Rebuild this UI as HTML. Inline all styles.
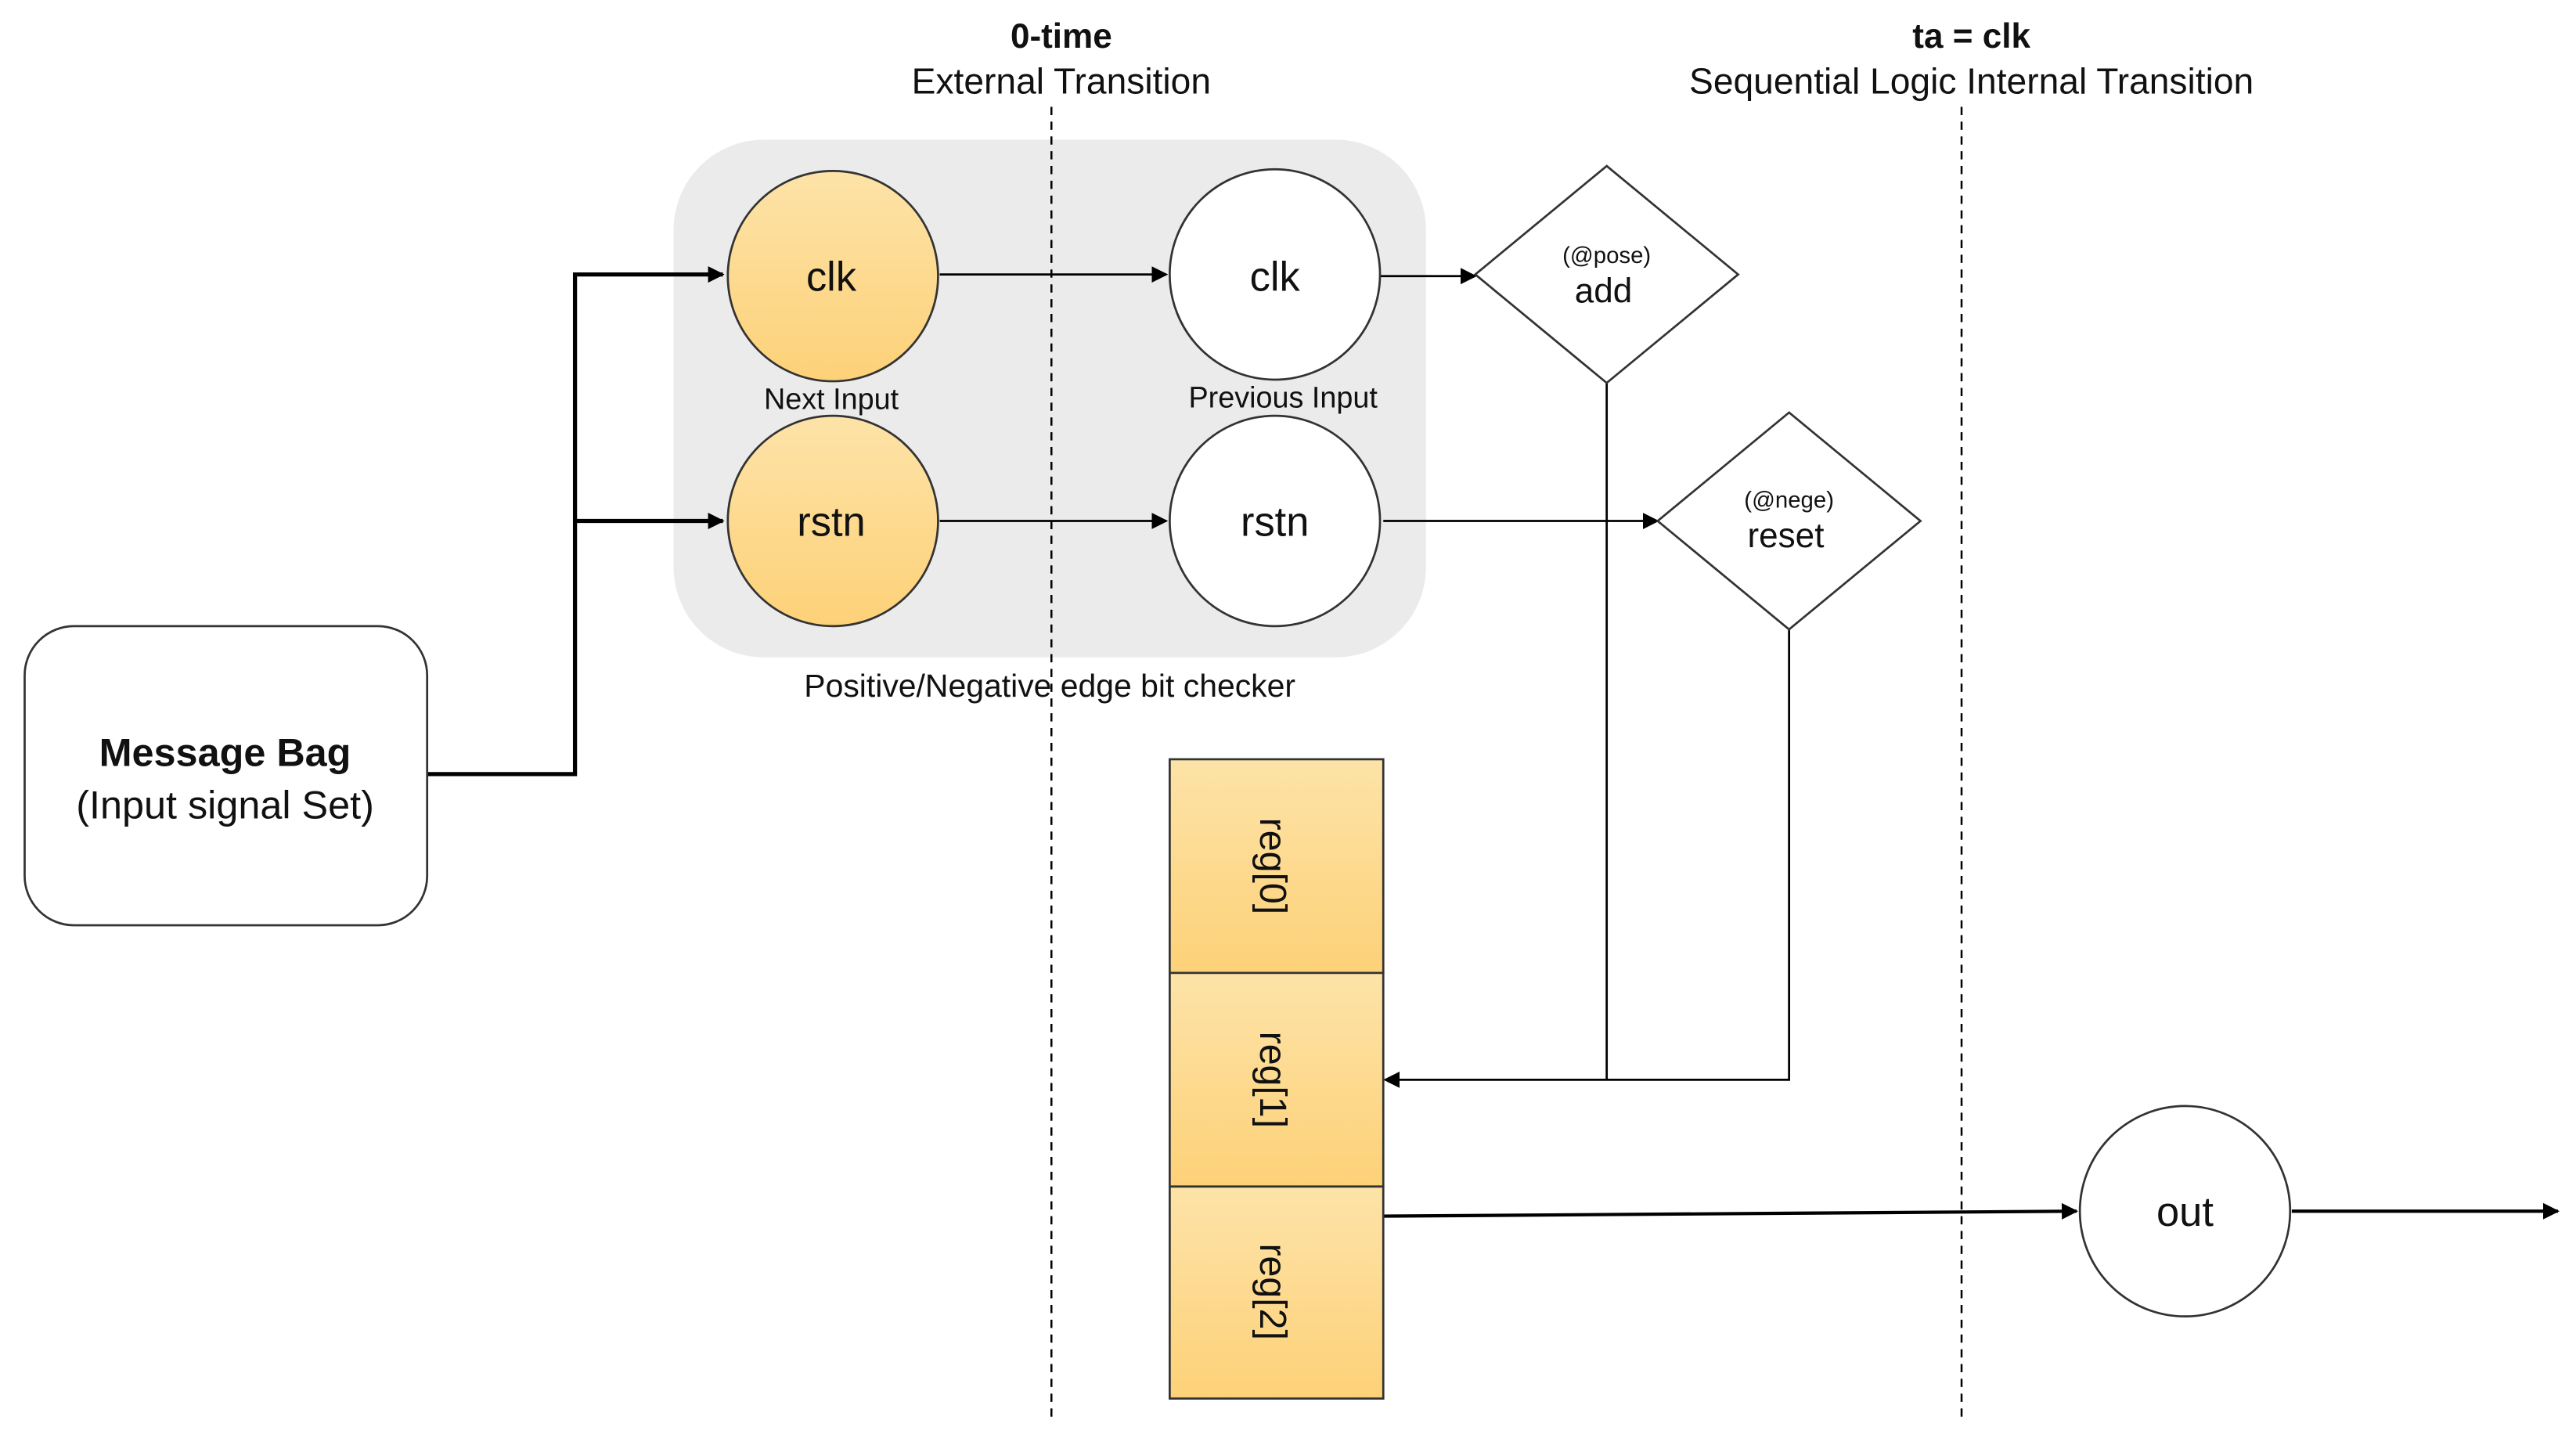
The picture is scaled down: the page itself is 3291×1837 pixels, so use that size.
<!DOCTYPE html>
<html><head><meta charset="utf-8"><style>
html,body{margin:0;padding:0;background:#fff;width:3291px;height:1837px;overflow:hidden}
svg{display:block}
text{font-family:"Liberation Sans",sans-serif;fill:#111}
</style></head><body>
<svg width="3291" height="1837" viewBox="0 0 1568 875" preserveAspectRatio="none">
<defs>
<linearGradient id="og" x1="0" y1="0" x2="0" y2="1"><stop offset="0" stop-color="#fde3a8"/><stop offset="1" stop-color="#fdd178"/></linearGradient>
<marker id="ar" markerWidth="10" markerHeight="10" refX="9" refY="5" orient="auto" markerUnits="userSpaceOnUse"><path d="M0,0 L10,5 L0,10 z" fill="#000"/></marker>
</defs>
<rect x="410" y="85" width="458" height="315" rx="55" fill="#ebebeb"/>
<g stroke="#000" stroke-width="1.2" stroke-dasharray="5,4" fill="none">
<line x1="640" y1="65" x2="640" y2="865"/><line x1="1194" y1="65" x2="1194" y2="862"/>
</g>
<g fill="none" stroke="#000">
<polyline points="260,471 350,471 350,167 440,167" stroke-width="2.5" marker-end="url(#ar)"/>
<polyline points="350,317 440,317" stroke-width="2.5" marker-end="url(#ar)"/>
<line x1="572" y1="167" x2="710" y2="167" stroke-width="1.3" marker-end="url(#ar)"/>
<line x1="840" y1="168" x2="898" y2="168" stroke-width="1.3" marker-end="url(#ar)"/>
<line x1="572" y1="317" x2="710" y2="317" stroke-width="1.3" marker-end="url(#ar)"/>
<line x1="842" y1="317" x2="1009" y2="317" stroke-width="1.3" marker-end="url(#ar)"/>
<polyline points="978,233 978,657" stroke-width="1.3"/>
<polyline points="1089,383 1089,657 843,657" stroke-width="1.3" marker-end="url(#ar)"/>
<line x1="842" y1="740" x2="1264" y2="737" stroke-width="2" marker-end="url(#ar)"/>
<line x1="1395" y1="737" x2="1557" y2="737" stroke-width="2" marker-end="url(#ar)"/>
</g>
<g stroke="#333" stroke-width="1.3">
<circle cx="507" cy="168" r="64" fill="url(#og)"/>
<circle cx="507" cy="317" r="64" fill="url(#og)"/>
<circle cx="776" cy="167" r="64" fill="#fff"/>
<circle cx="776" cy="317" r="64" fill="#fff"/>
<circle cx="1330" cy="737" r="64" fill="#fff"/>
<polygon points="898,167 978,101 1058,167 978,233" fill="#fff"/>
<polygon points="1009,317 1089,251 1169,317 1089,383" fill="#fff"/>
<rect x="15" y="381" width="245" height="182" rx="30" fill="#fff"/>
<rect x="712" y="462" width="130" height="130" fill="url(#og)"/>
<rect x="712" y="592" width="130" height="130" fill="url(#og)"/>
<rect x="712" y="722" width="130" height="129" fill="url(#og)"/>
</g>
<g text-anchor="middle">
<text x="646" y="29" font-size="21" font-weight="bold">0-time</text>
<text x="646" y="57" font-size="22">External Transition</text>
<text x="1200" y="29" font-size="21" font-weight="bold">ta = clk</text>
<text x="1200" y="57" font-size="22">Sequential Logic Internal Transition</text>
<text x="506" y="177" font-size="25">clk</text>
<text x="506" y="326" font-size="25">rstn</text>
<text x="776" y="177" font-size="25">clk</text>
<text x="776" y="326" font-size="25">rstn</text>
<text x="1330" y="746" font-size="25">out</text>
<text x="506" y="249" font-size="18">Next Input</text>
<text x="781" y="248" font-size="18">Previous Input</text>
<text x="639" y="424" font-size="19.5">Positive/Negative edge bit checker</text>
<text x="978" y="160" font-size="14">(@pose)</text>
<text x="976" y="184" font-size="21">add</text>
<text x="1089" y="309" font-size="14">(@nege)</text>
<text x="1087" y="333" font-size="21">reset</text>
<text x="137" y="466" font-size="24" font-weight="bold">Message Bag</text>
<text x="137" y="498" font-size="24">(Input signal Set)</text>
<text transform="translate(767,527) rotate(90)" font-size="23">reg[0]</text>
<text transform="translate(767,657) rotate(90)" font-size="23">reg[1]</text>
<text transform="translate(767,786) rotate(90)" font-size="23">reg[2]</text>
</g>
</svg>
</body></html>
